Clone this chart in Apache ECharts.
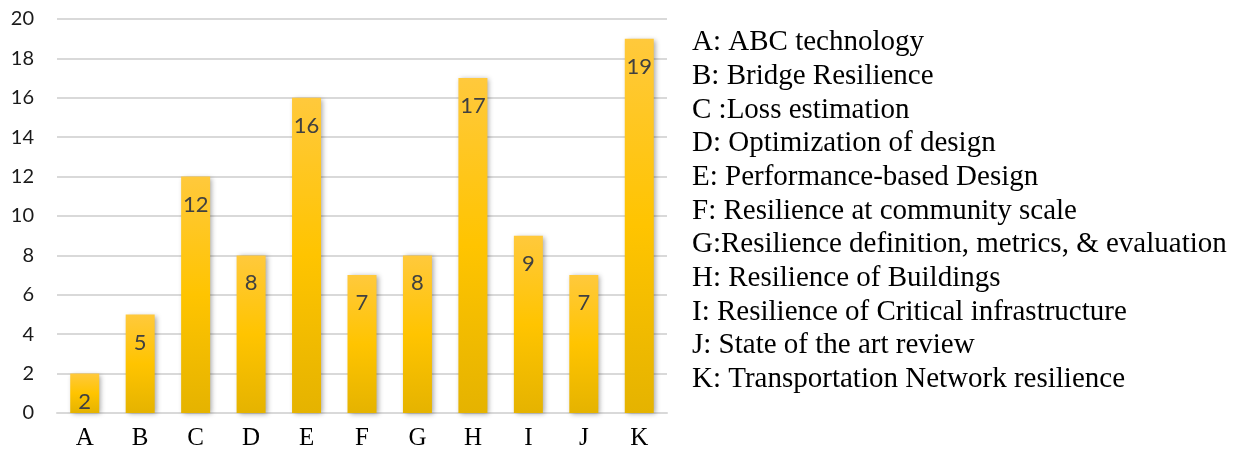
<!DOCTYPE html>
<html>
<head>
<meta charset="utf-8">
<script src="https://cdn.jsdelivr.net/npm/echarts@6/dist/echarts.min.js"></script>
<style>html,body{margin:0;padding:0;background:#fff;}#c{width:1244px;height:454px;}</style>
</head>
<body>
<div id="c"></div>
<script>
const categories = ['A','B','C','D','E','F','G','H','I','J','K'];
const values = [2,5,12,8,16,7,8,17,9,7,19];
const legendLines = [
  'A: ABC technology',
  'B: Bridge Resilience',
  'C :Loss estimation',
  'D: Optimization of design',
  'E: Performance-based Design',
  'F: Resilience at community scale',
  'G:Resilience definition, metrics, & evaluation',
  'H: Resilience of Buildings',
  'I: Resilience of Critical infrastructure',
  'J: State of the art review',
  'K: Transportation Network resilience'
];

const chart = echarts.init(document.getElementById('c'), null, {renderer:'canvas'});
const legendGraphics = legendLines.map((t,i)=>({
  type:'text', left:692, top:43 + i*33.7 - 15,
  style:{text:t, fontSize:29, fontFamily:'Liberation Serif', fill:'#000'}
}));
chart.setOption({
  animation:false,
  backgroundColor:'#fff',
  grid:{left:57, right:577, top:19, bottom:41, containLabel:false},
  xAxis:{
    type:'category', data:categories,
    axisLine:{show:true, lineStyle:{color:'#d9d9d9', width:2}},
    axisTick:{show:false},
    axisLabel:{color:'#000', fontFamily:'Liberation Serif', fontSize:25, margin:13}
  },
  yAxis:{
    type:'value', min:0, max:20, interval:2,
    axisLine:{show:false}, axisTick:{show:false},
    splitLine:{lineStyle:{color:'#d9d9d9', width:2}},
    axisLabel:{color:'#1a1a1a', fontFamily:'Lato', fontSize:20, margin:23}
  },
  series:[{
    type:'bar', data:values, barWidth:29,
    itemStyle:{
      color:new echarts.graphic.LinearGradient(0,0,0,1,[
        {offset:0,color:'#FFC93C'},{offset:0.5,color:'#FFC400'},{offset:1,color:'#E5B300'}
      ]),
      shadowColor:'rgba(0,0,0,0.35)', shadowBlur:5, shadowOffsetX:2, shadowOffsetY:1
    },
    label:{show:true, position:'insideTop', distance:17, color:'#404040',
      fontFamily:'Lato', fontSize:22}
  }],
  graphic: legendGraphics
});
</script>
</body>
</html>
